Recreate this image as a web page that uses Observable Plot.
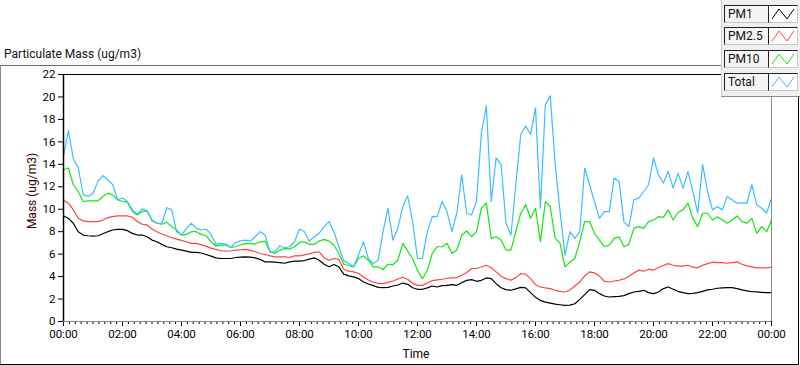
<!DOCTYPE html>
<html><head><meta charset="utf-8">
<script src="https://cdn.jsdelivr.net/npm/d3@7"></script>
<script src="https://cdn.jsdelivr.net/npm/@observablehq/plot@0.6"></script>
<style>
body{margin:0;background:#fff;font-family:Roboto,"Segoe UI",sans-serif;}
#wrap{position:relative;width:800px;height:365px;overflow:hidden;background:#fff;}
#wrap svg{position:absolute;left:0;top:0;}
.abs{position:absolute;}
.lbox{position:absolute;left:724px;width:40px;height:16px;border:1px solid;border-color:#222 #c8c8c8 #c8c8c8 #222;background:#f4f4f4;font-size:12px;line-height:16px;padding-left:3px;box-sizing:content-box;color:#111;}
.sbox{position:absolute;left:768px;width:28px;height:16px;border:1px solid;border-color:#222 #c8c8c8 #c8c8c8 #222;background:#fff;}
</style></head><body><div id="wrap"></div>
<script>
// sampling: one value every 10 minutes from 00:00 to 24:00
const stepMinutes = 10;

const pm1 = [
9.40,9.19,8.75,8.00,7.70,7.64,7.61,7.64,7.82,8.00,8.15,8.21,8.21,8.09,7.85,7.70,7.70,7.55,7.25,7.10,6.87,6.66,6.57,6.45,6.36,6.27,6.15,6.15,6.10,
5.97,5.82,5.67,5.61,5.61,5.61,5.70,5.73,5.76,5.73,5.67,5.52,5.31,5.31,5.28,5.25,5.19,5.31,5.37,5.37,5.43,5.55,5.67,5.46,5.10,4.87,5.07,4.87,
4.22,4.06,3.97,3.82,3.52,3.34,3.19,3.04,3.01,3.04,3.16,3.25,3.43,3.31,3.01,2.87,2.87,2.99,3.16,3.07,3.19,3.22,3.28,3.22,3.46,3.67,3.73,3.58,3.67,
3.88,3.82,3.37,3.01,2.84,2.78,2.90,3.04,2.99,2.57,2.15,1.88,1.73,1.64,1.55,1.49,1.43,1.46,1.58,1.97,2.39,2.84,2.78,2.48,2.27,2.18,2.21,2.24,2.30,
2.48,2.63,2.69,2.78,2.57,2.48,2.63,2.93,3.07,2.87,2.69,2.57,2.48,2.51,2.57,2.69,2.81,2.87,2.96,2.99,3.01,3.01,2.93,2.81,2.72,2.66,2.63,2.60,2.57,2.57];

const pm25 = [
10.78,10.54,9.94,9.19,8.96,8.90,8.90,8.90,9.04,9.25,9.34,9.40,9.40,9.40,9.28,8.90,8.66,8.60,8.24,8.00,7.79,7.64,7.46,7.34,7.22,7.10,6.96,6.96,6.85,
6.69,6.54,6.42,6.30,6.27,6.30,6.36,6.39,6.42,6.33,6.21,6.06,5.97,5.85,5.76,5.76,5.76,5.70,5.85,5.85,5.94,6.03,6.15,6.21,5.67,5.46,5.61,5.55,
4.65,4.48,4.42,4.30,3.97,3.70,3.52,3.40,3.37,3.49,3.61,3.79,3.94,3.76,3.40,3.22,3.22,3.43,3.64,3.70,3.76,3.85,3.88,3.91,4.12,4.36,4.72,4.72,4.85,
5.01,4.78,4.42,4.03,3.82,3.67,3.91,4.27,4.21,3.82,3.28,3.07,2.99,2.93,2.78,2.69,2.63,2.81,3.16,3.52,4.06,4.42,4.33,4.06,3.58,3.52,3.61,3.67,3.79,
4.03,4.33,4.57,4.48,4.66,4.57,4.81,4.99,5.16,5.01,4.93,4.93,5.01,4.84,4.78,5.01,5.16,5.28,5.25,5.25,5.19,5.25,5.31,5.10,4.96,4.87,4.78,4.78,4.78,4.84];

const pm10 = [
13.52,13.67,12.18,11.58,10.69,10.75,10.75,10.75,11.13,11.43,11.28,10.84,10.69,10.63,9.79,9.49,9.79,9.85,9.04,8.75,8.66,8.84,8.45,8.15,7.70,7.76,8.00,8.00,7.76,
7.64,7.10,6.72,6.81,6.81,6.60,6.66,6.81,6.93,6.93,6.90,7.10,7.16,6.21,6.06,6.36,6.51,6.45,6.66,7.04,7.10,6.87,6.87,7.16,7.31,7.16,6.81,6.06,
5.10,4.99,4.87,5.61,5.85,5.46,4.87,4.87,4.63,5.10,5.07,5.46,6.96,6.27,5.61,4.57,3.82,4.57,6.06,6.66,6.66,6.96,6.06,6.36,7.70,8.06,7.55,8.00,10.10,
10.54,7.40,7.55,7.25,6.36,6.36,8.00,9.64,10.39,9.19,10.09,7.10,10.69,10.24,7.40,6.96,4.87,5.31,5.61,7.10,8.90,8.90,7.85,7.25,6.66,6.81,7.40,7.55,6.66,
6.87,8.30,8.45,8.30,8.90,9.04,9.34,9.28,9.94,9.04,9.73,9.94,10.54,9.19,8.45,9.64,9.64,9.04,9.34,9.04,8.75,9.04,9.40,8.90,8.75,9.19,7.85,8.45,8.00,9.04];

const total = [
14.76,17.00,14.50,13.70,11.30,11.13,11.43,12.48,13.00,12.60,12.20,10.84,11.00,10.69,9.94,9.55,10.03,9.85,8.96,8.75,8.75,10.15,9.94,8.00,7.70,8.30,8.75,8.30,8.15,
8.24,7.76,6.87,6.96,6.90,6.57,7.04,7.19,7.25,7.16,7.55,8.00,7.70,6.21,6.21,6.75,6.57,6.66,7.10,8.24,8.00,7.16,7.55,7.85,8.45,8.90,8.00,6.66,
5.40,5.16,4.87,5.91,7.10,5.61,5.16,5.46,8.00,10.09,7.25,8.30,10.24,11.20,8.90,5.61,5.61,8.00,9.34,9.34,10.69,9.79,8.00,9.64,13.07,9.64,9.49,10.69,16.80,
19.20,10.69,14.57,13.97,8.75,7.70,12.18,16.66,17.40,16.66,19.04,10.09,19.30,20.10,13.97,9.79,5.91,8.00,7.40,8.00,13.67,12.18,10.69,9.19,9.79,9.79,12.78,12.48,8.85,
8.45,10.84,10.99,11.58,12.18,14.57,13.07,12.33,13.37,11.88,13.22,11.88,13.37,11.58,9.64,13.97,11.58,9.94,10.24,9.94,11.13,10.84,10.54,10.54,10.54,12.18,10.39,10.09,9.64,10.99];

const seriesNames = ["PM1", "PM2.5", "PM10", "Total"];
const seriesColors = ["#000000", "#ff4444", "#11e611", "#3dbdff"];
const yTicks = [0, 2, 4, 6, 8, 10, 12, 14, 16, 18, 20, 22];
const xTickHours = [0, 2, 4, 6, 8, 10, 12, 14, 16, 18, 20, 22, 24];
const xTickLabels = ["00:00","02:00","04:00","06:00","08:00","10:00","12:00","14:00","16:00","18:00","20:00","22:00","00:00"];
const minorTickStepHours = 0.2;

const seriesValues = [pm1, pm25, pm10, total];
const rows = [];
seriesValues.forEach((vals, s) => vals.forEach((v, i) => rows.push({series: seriesNames[s], t: i * stepMinutes / 60, v})));
const minorTicks = d3.range(0, 24 + 1e-9, minorTickStepHours);

const chart = Plot.plot({
  width: 800, height: 365,
  marginLeft: 63, marginRight: 29, marginTop: 74, marginBottom: 44,
  style: {fontFamily: "Roboto, 'Segoe UI', sans-serif", fontSize: "11px", color: "#000", background: "transparent", overflow: "visible"},
  x: {domain: [0, 24]},
  y: {domain: [0, 22]},
  color: {domain: seriesNames, range: seriesColors},
  marks: [
    Plot.axisY(yTicks, {tickSize: 5, tickPadding: 3, label: null, fontSize: 11.5}),
    Plot.axisX(minorTicks, {tickSize: 3, tickFormat: () => "", label: null}),
    Plot.axisX(xTickHours, {tickSize: 5, tickPadding: 3, label: null, fontSize: 11.5, tickFormat: d => xTickLabels[xTickHours.indexOf(d)]}),
    Plot.line(rows, {x: "t", y: "v", z: "series", stroke: "series", strokeWidth: 1.2}),
    Plot.ruleY([0], {stroke: "#8a8a8a"}),
    Plot.ruleX([24], {stroke: "#8a8a8a"}),
    Plot.ruleY([22], {stroke: "#000"}),
    Plot.ruleX([0], {stroke: "#000", strokeWidth: 1.5})
  ]
});

const wrap = document.getElementById("wrap");
wrap.appendChild(chart);

function addDiv(css, text) {
  const d = document.createElement("div");
  d.className = "abs";
  d.style.cssText = css;
  if (text) d.textContent = text;
  wrap.appendChild(d);
  return d;
}
// outer panel frame
addDiv("left:0;top:65px;width:722px;height:1px;background:#6a6a6a;");
addDiv("left:0;top:65px;width:1px;height:299px;background:#8a8a8a;");
addDiv("left:0;top:364px;width:799px;height:1px;background:#000;");
addDiv("left:798px;top:97px;width:1px;height:268px;background:#000;");
// titles
addDiv("left:4px;top:47px;font-size:12px;color:#111;white-space:nowrap;", "Particulate Mass (ug/m3)");
addDiv("left:32px;top:191px;font-size:12px;color:#3a0000;white-space:nowrap;transform:translate(-50%,-50%) rotate(-90deg);", "Mass (ug/m3)");
addDiv("left:416px;top:354px;font-size:12px;color:#000;white-space:nowrap;transform:translate(-50%,-50%);", "Time");
// legend
addDiv("left:721px;top:0;width:79px;height:96px;background:#f0f0f0;border-left:1px solid #cfcfcf;border-bottom:1px solid #8a8a8a;");
const legendTops = [5, 27, 50, 73];
seriesNames.forEach((name, i) => {
  const lb = document.createElement("div");
  lb.className = "lbox"; lb.style.top = legendTops[i] + "px"; lb.textContent = name;
  wrap.appendChild(lb);
  const sb = document.createElement("div");
  sb.className = "sbox"; sb.style.top = legendTops[i] + "px";
  sb.innerHTML = `<svg width="28" height="16" style="position:static"><polyline points="3,13 10,3 18,13 25,3" fill="none" stroke="${seriesColors[i]}" stroke-width="1"/></svg>`;
  wrap.appendChild(sb);
});
</script>
</body></html>
